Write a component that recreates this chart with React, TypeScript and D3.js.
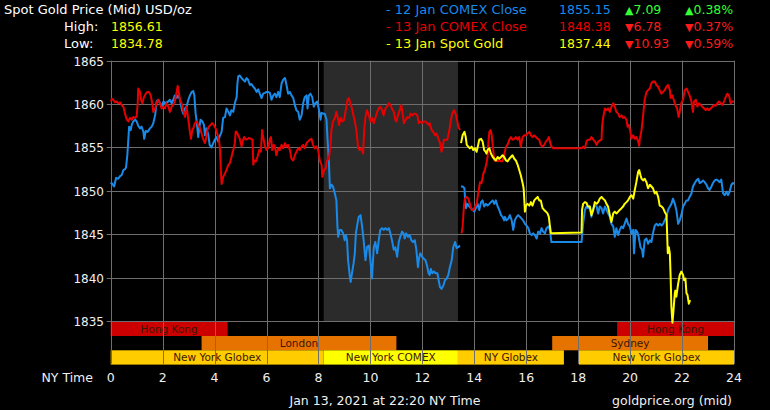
import React from "react";
import * as d3 from "d3";

// ---- data ----
const xTicks = [0, 2, 4, 6, 8, 10, 12, 14, 16, 18, 20, 22, 24];
const yTicks = [1835, 1840, 1845, 1850, 1855, 1860, 1865];
const comexShade = [8.2, 13.37];

type Band = { row: number; start: number; end: number; label: string; color: string };
const sessionBands: Band[] = [
  { row: 0, start: 0, end: 4.5, label: "Hong Kong", color: "#cc0000" },
  { row: 0, start: 19.5, end: 24, label: "Hong Kong", color: "#cc0000" },
  { row: 1, start: 3.5, end: 11, label: "London", color: "#e67300" },
  { row: 1, start: 17, end: 23, label: "Sydney", color: "#e67300" },
  { row: 2, start: 0, end: 8.2, label: "New York Globex", color: "#ffcc00" },
  { row: 2, start: 8.2, end: 13.37, label: "New York COMEX", color: "#ffff00" },
  { row: 2, start: 13.37, end: 17.45, label: "NY Globex", color: "#ffcc00" },
  { row: 2, start: 18.03, end: 24, label: "New York Globex", color: "#ffcc00" },
];

// [hour, price]; null price breaks the line
const blueSeries: [number, number | null][] = [
  [0, 1850.8], [0.04, 1850.9], [0.13, 1850.5], [0.21, 1851.5], [0.29, 1851.4], [0.36, 1851.7], [0.42, 1851.8],
  [0.49, 1852.4], [0.55, 1852.5], [0.59, 1852.7], [0.64, 1854.1], [0.71, 1857.4], [0.77, 1857.0], [0.81, 1857.6],
  [0.87, 1858.0], [0.94, 1858.2], [1.0, 1858.0], [1.06, 1857.5], [1.13, 1857.2], [1.19, 1857.4], [1.26, 1856.8],
  [1.29, 1856.0], [1.35, 1856.9], [1.42, 1856.8], [1.51, 1857.2], [1.58, 1857.4], [1.64, 1857.8], [1.71, 1858.7],
  [1.77, 1860.3], [1.83, 1860.5], [1.9, 1860.1], [1.96, 1859.7], [2.03, 1860.3], [2.09, 1860.1], [2.15, 1860.2],
  [2.22, 1860.3], [2.28, 1860.5], [2.35, 1860.1], [2.41, 1860.5], [2.47, 1861.0], [2.54, 1860.7], [2.6, 1861.0],
  [2.67, 1860.5], [2.73, 1859.5], [2.79, 1858.9], [2.86, 1859.5], [2.92, 1859.7], [2.99, 1860.5], [3.05, 1861.0],
  [3.12, 1861.4], [3.18, 1861.5], [3.22, 1861.0], [3.27, 1858.9], [3.31, 1858.0], [3.37, 1856.2], [3.41, 1857.2],
  [3.46, 1858.2], [3.53, 1858.0], [3.59, 1857.6], [3.63, 1856.4], [3.69, 1857.2], [3.76, 1856.4], [3.81, 1855.3],
  [3.88, 1855.0], [3.95, 1855.5], [4.01, 1855.9], [4.08, 1856.2], [4.14, 1855.7], [4.21, 1856.4], [4.27, 1856.8],
  [4.33, 1858.4], [4.4, 1858.5], [4.46, 1859.5], [4.53, 1859.1], [4.59, 1858.7], [4.65, 1859.3], [4.72, 1859.1],
  [4.78, 1860.1], [4.85, 1860.8], [4.88, 1862.4], [4.91, 1863.2], [4.97, 1863.3], [5.04, 1863.0], [5.1, 1862.8],
  [5.17, 1862.6], [5.23, 1863.0], [5.29, 1862.8], [5.36, 1862.2], [5.42, 1862.3], [5.49, 1862.0], [5.55, 1861.8],
  [5.62, 1861.4], [5.68, 1861.7], [5.74, 1861.2], [5.81, 1860.7], [5.87, 1861.2], [5.94, 1861.3], [6.0, 1861.4],
  [6.06, 1861.4], [6.13, 1861.3], [6.19, 1860.5], [6.26, 1861.0], [6.32, 1861.2], [6.38, 1860.8], [6.45, 1861.4],
  [6.51, 1860.8], [6.58, 1862.4], [6.64, 1862.8], [6.71, 1863.0], [6.77, 1862.2], [6.83, 1861.2], [6.9, 1861.4],
  [6.96, 1861.0], [7.03, 1860.7], [7.09, 1859.9], [7.15, 1859.3], [7.22, 1859.1], [7.28, 1858.2], [7.35, 1858.7],
  [7.41, 1860.1], [7.47, 1860.8], [7.54, 1861.0], [7.58, 1859.5], [7.63, 1861.0], [7.69, 1861.2], [7.76, 1860.8],
  [7.82, 1859.7], [7.88, 1860.1], [7.95, 1860.3], [8.01, 1859.5], [8.08, 1858.2], [8.12, 1859.0], [8.18, 1858.9],
  [8.24, 1858.9], [8.31, 1858.2], [8.35, 1855.9], [8.4, 1853.5], [8.44, 1850.3], [8.5, 1850.7], [8.56, 1850.5],
  [8.63, 1849.7], [8.69, 1848.9], [8.73, 1845.9], [8.76, 1844.7], [8.82, 1845.5], [8.88, 1845.5], [8.95, 1845.1],
  [9.01, 1844.3], [9.05, 1844.9], [9.1, 1844.3], [9.14, 1842.0], [9.21, 1840.1], [9.24, 1839.5], [9.29, 1840.5],
  [9.35, 1841.6], [9.4, 1842.8], [9.44, 1845.1], [9.5, 1846.2], [9.55, 1847.0], [9.62, 1847.2], [9.68, 1845.9],
  [9.74, 1844.3], [9.81, 1842.0], [9.87, 1843.5], [9.94, 1843.7], [10.0, 1842.0], [10.06, 1839.9], [10.13, 1843.5],
  [10.19, 1844.1], [10.26, 1842.8], [10.32, 1844.3], [10.38, 1845.5], [10.45, 1845.7], [10.51, 1845.5], [10.58, 1845.7],
  [10.64, 1845.5], [10.71, 1845.7], [10.77, 1845.1], [10.83, 1844.3], [10.9, 1843.2], [10.96, 1843.5], [11.03, 1842.4],
  [11.09, 1844.1], [11.15, 1844.7], [11.22, 1845.3], [11.28, 1845.1], [11.32, 1844.5], [11.38, 1845.1], [11.45, 1844.7],
  [11.51, 1844.9], [11.58, 1844.3], [11.64, 1844.1], [11.71, 1844.3], [11.77, 1843.2], [11.83, 1841.2], [11.87, 1842.2],
  [11.92, 1842.8], [11.99, 1842.4], [12.05, 1842.2], [12.12, 1842.0], [12.18, 1841.4], [12.24, 1840.5], [12.28, 1840.3],
  [12.33, 1841.0], [12.38, 1840.5], [12.45, 1840.7], [12.51, 1840.5], [12.58, 1840.5], [12.64, 1839.5], [12.68, 1838.9],
  [12.74, 1838.7], [12.81, 1839.1], [12.87, 1839.7], [12.94, 1839.9], [13.0, 1840.3], [13.06, 1841.2], [13.13, 1842.0],
  [13.19, 1843.5], [13.26, 1844.1], [13.32, 1843.4], [13.38, 1843.5], [13.45, 1843.7], [13.47, null],
  [13.49, 1850.5], [13.55, 1850.5], [13.62, 1850.3], [13.64, 1849.3], [13.68, 1848.0], [13.74, 1848.5], [13.81, 1848.2],
  [13.87, 1848.0], [13.94, 1847.8], [14.0, 1847.6], [14.06, 1848.0], [14.13, 1848.5], [14.19, 1847.8], [14.26, 1848.7],
  [14.32, 1848.9], [14.38, 1848.2], [14.45, 1848.5], [14.51, 1848.3], [14.58, 1848.5], [14.64, 1848.7], [14.71, 1848.9],
  [14.77, 1848.5], [14.83, 1848.9], [14.9, 1848.2], [14.96, 1847.8], [15.03, 1847.2], [15.09, 1847.0], [15.15, 1846.6],
  [15.18, 1847.0], [15.24, 1846.6], [15.31, 1846.8], [15.37, 1847.2], [15.44, 1846.6], [15.5, 1845.5], [15.56, 1846.6],
  [15.63, 1847.0], [15.69, 1847.2], [15.76, 1847.0], [15.82, 1846.8], [15.88, 1846.6], [15.95, 1846.2], [16.01, 1846.0],
  [16.08, 1845.7], [16.14, 1845.1], [16.21, 1844.9], [16.27, 1845.1], [16.33, 1844.9], [16.4, 1844.5], [16.46, 1845.3],
  [16.53, 1845.1], [16.59, 1845.7], [16.65, 1845.3], [16.72, 1845.1], [16.78, 1845.7], [16.85, 1845.9], [16.91, 1845.5],
  [16.97, 1844.1], [18.13, 1844.1], [18.19, 1846.2], [18.26, 1847.8], [18.32, 1848.2], [18.38, 1848.0], [18.45, 1848.2],
  [18.51, 1847.0], [18.58, 1848.0], [18.64, 1848.3], [18.71, 1848.2], [18.77, 1847.4], [18.83, 1848.2], [18.9, 1848.0],
  [18.96, 1847.4], [19.03, 1848.2], [19.09, 1847.8], [19.15, 1847.4], [19.22, 1847.0], [19.28, 1846.2], [19.35, 1845.9],
  [19.41, 1844.7], [19.47, 1845.7], [19.54, 1844.9], [19.6, 1845.5], [19.67, 1845.9], [19.73, 1845.7], [19.79, 1846.2],
  [19.86, 1846.8], [19.92, 1846.2], [19.99, 1845.9], [20.05, 1845.1], [20.12, 1845.5], [20.15, 1842.8], [20.21, 1845.5],
  [20.27, 1845.3], [20.33, 1844.7], [20.4, 1843.5], [20.46, 1843.2], [20.5, 1842.4], [20.56, 1844.3], [20.63, 1844.5],
  [20.69, 1843.9], [20.76, 1844.3], [20.82, 1844.1], [20.88, 1845.1], [20.95, 1846.0], [21.01, 1846.2], [21.08, 1846.0],
  [21.14, 1846.2], [21.21, 1846.0], [21.27, 1846.2], [21.33, 1846.6], [21.4, 1847.0], [21.46, 1847.8], [21.53, 1848.2],
  [21.59, 1848.5], [21.65, 1849.1], [21.72, 1848.5], [21.78, 1847.8], [21.85, 1846.2], [21.91, 1846.6], [21.97, 1847.2],
  [22.04, 1848.2], [22.1, 1848.5], [22.17, 1848.9], [22.23, 1848.9], [22.29, 1849.3], [22.36, 1849.7], [22.42, 1850.5],
  [22.49, 1850.9], [22.55, 1851.2], [22.62, 1851.4], [22.68, 1850.9], [22.74, 1851.0], [22.81, 1851.2], [22.87, 1851.0],
  [22.94, 1850.7], [23.0, 1850.3], [23.06, 1850.1], [23.13, 1850.5], [23.19, 1850.9], [23.26, 1851.2], [23.32, 1851.3],
  [23.38, 1851.2], [23.45, 1851.0], [23.51, 1851.3], [23.58, 1849.7], [23.64, 1849.5], [23.71, 1849.9], [23.77, 1849.5],
  [23.83, 1849.9], [23.9, 1850.7], [23.96, 1850.9], [24.0, 1850.8],
];

const redSeries: [number, number | null][] = [
  [0, 1860.3], [0.05, 1860.6], [0.1, 1860.5], [0.17, 1860.2], [0.23, 1860.3], [0.29, 1860.1], [0.36, 1860.2],
  [0.42, 1859.9], [0.49, 1859.7], [0.55, 1858.9], [0.62, 1858.2], [0.68, 1858.0], [0.74, 1858.4], [0.81, 1858.2],
  [0.87, 1858.5], [0.94, 1858.4], [1.0, 1858.6], [1.04, 1860.1], [1.06, 1861.8], [1.13, 1861.4], [1.17, 1860.5],
  [1.22, 1860.1], [1.28, 1860.8], [1.35, 1861.2], [1.41, 1861.4], [1.47, 1861.4], [1.54, 1861.0], [1.6, 1860.1],
  [1.64, 1859.1], [1.71, 1859.5], [1.77, 1860.1], [1.83, 1860.5], [1.9, 1860.1], [1.96, 1859.5], [2.03, 1859.7],
  [2.09, 1859.5], [2.15, 1860.1], [2.22, 1859.7], [2.28, 1859.1], [2.35, 1859.7], [2.41, 1859.9], [2.47, 1860.3],
  [2.54, 1861.4], [2.58, 1862.1], [2.63, 1861.2], [2.68, 1860.3], [2.73, 1860.1], [2.79, 1859.3], [2.86, 1858.5],
  [2.92, 1859.7], [2.99, 1858.2], [3.04, 1857.0], [3.09, 1856.0], [3.14, 1857.0], [3.18, 1857.2], [3.24, 1857.8],
  [3.31, 1858.0], [3.37, 1857.6], [3.44, 1857.2], [3.5, 1856.6], [3.56, 1856.0], [3.63, 1855.5], [3.67, 1856.0],
  [3.72, 1857.0], [3.78, 1857.4], [3.85, 1857.6], [3.91, 1857.8], [3.97, 1857.6], [4.04, 1857.2], [4.1, 1856.6],
  [4.17, 1855.9], [4.21, 1854.7], [4.24, 1852.4], [4.27, 1850.8], [4.33, 1851.6], [4.4, 1852.0], [4.46, 1852.4],
  [4.53, 1853.0], [4.59, 1853.2], [4.65, 1853.9], [4.72, 1854.7], [4.78, 1855.5], [4.81, 1856.8], [4.85, 1856.8],
  [4.91, 1856.4], [4.97, 1856.0], [5.04, 1855.1], [5.08, 1855.7], [5.14, 1856.2], [5.21, 1855.9], [5.27, 1856.0],
  [5.33, 1856.1], [5.4, 1856.0], [5.46, 1855.9], [5.49, 1853.0], [5.53, 1853.5], [5.59, 1853.4], [5.65, 1853.9],
  [5.72, 1854.7], [5.78, 1854.5], [5.83, 1857.0], [5.87, 1856.2], [5.94, 1855.1], [6.0, 1854.7], [6.06, 1854.9],
  [6.13, 1856.0], [6.17, 1856.2], [6.22, 1854.7], [6.28, 1855.3], [6.32, 1855.1], [6.38, 1854.1], [6.45, 1854.9],
  [6.51, 1854.7], [6.58, 1855.3], [6.64, 1854.9], [6.71, 1855.5], [6.77, 1855.1], [6.83, 1855.3], [6.9, 1854.7],
  [6.96, 1853.7], [7.03, 1853.5], [7.09, 1854.1], [7.15, 1854.5], [7.22, 1854.9], [7.28, 1854.7], [7.35, 1855.1],
  [7.41, 1855.3], [7.47, 1854.9], [7.54, 1855.5], [7.6, 1855.7], [7.67, 1855.9], [7.73, 1856.0], [7.79, 1855.3],
  [7.86, 1854.9], [7.92, 1855.1], [7.99, 1854.7], [8.05, 1853.5], [8.12, 1853.0], [8.15, 1851.6], [8.22, 1852.4],
  [8.28, 1852.6], [8.33, 1853.5], [8.4, 1853.7], [8.46, 1855.1], [8.5, 1857.0], [8.56, 1858.0], [8.63, 1858.4],
  [8.69, 1859.1], [8.76, 1858.2], [8.79, 1857.6], [8.86, 1858.4], [8.92, 1858.0], [8.99, 1858.2], [9.05, 1859.3],
  [9.12, 1860.5], [9.17, 1860.7], [9.23, 1860.1], [9.29, 1859.5], [9.36, 1858.5], [9.4, 1858.0], [9.46, 1857.0],
  [9.53, 1854.9], [9.59, 1854.7], [9.65, 1854.9], [9.72, 1854.3], [9.76, 1857.0], [9.81, 1858.5], [9.87, 1859.3],
  [9.94, 1858.7], [10.0, 1858.0], [10.06, 1858.4], [10.13, 1857.8], [10.19, 1858.4], [10.26, 1859.1], [10.32, 1859.5],
  [10.38, 1859.7], [10.45, 1859.3], [10.51, 1858.7], [10.58, 1859.5], [10.64, 1859.7], [10.71, 1860.1], [10.77, 1859.9],
  [10.83, 1859.5], [10.9, 1859.1], [10.96, 1858.2], [11.0, 1858.0], [11.06, 1858.7], [11.13, 1859.3], [11.19, 1859.9],
  [11.23, 1859.1], [11.29, 1857.8], [11.36, 1858.2], [11.42, 1858.5], [11.49, 1858.4], [11.55, 1858.9], [11.62, 1858.7],
  [11.68, 1858.9], [11.74, 1858.9], [11.81, 1858.7], [11.86, 1857.8], [11.92, 1858.0], [11.99, 1857.8], [12.05, 1858.0],
  [12.12, 1858.0], [12.18, 1857.8], [12.24, 1857.6], [12.28, 1857.8], [12.36, 1857.0], [12.42, 1856.8], [12.49, 1856.4],
  [12.55, 1856.6], [12.62, 1856.0], [12.68, 1855.5], [12.74, 1854.5], [12.78, 1855.1], [12.83, 1855.9], [12.9, 1855.9],
  [12.96, 1855.9], [13.03, 1856.8], [13.09, 1858.0], [13.15, 1858.9], [13.22, 1859.3], [13.28, 1858.9], [13.35, 1858.0],
  [13.38, 1857.4], [13.45, 1857.0], [13.48, null],
  [13.51, 1845.1], [13.55, 1845.9], [13.6, 1848.2], [13.64, 1849.1], [13.71, 1849.3], [13.77, 1849.1], [13.83, 1848.5],
  [13.9, 1847.8], [13.96, 1847.8], [14.03, 1848.2], [14.09, 1848.5], [14.15, 1849.7], [14.22, 1851.0], [14.28, 1850.9],
  [14.35, 1852.0], [14.41, 1852.4], [14.47, 1853.2], [14.51, 1853.9], [14.54, 1855.5], [14.58, 1856.8], [14.63, 1857.0],
  [14.67, 1856.4], [14.73, 1854.7], [14.77, 1853.5], [14.83, 1853.5], [14.9, 1853.4], [14.96, 1853.5], [15.03, 1853.4],
  [15.09, 1853.4], [15.15, 1854.1], [15.22, 1855.1], [15.28, 1855.3], [15.35, 1855.9], [15.41, 1856.2], [15.47, 1855.9],
  [15.54, 1856.0], [15.6, 1856.2], [15.67, 1855.9], [15.73, 1856.2], [15.79, 1855.1], [15.86, 1856.2], [15.92, 1856.4],
  [15.99, 1856.4], [16.05, 1856.6], [16.12, 1856.8], [16.18, 1856.4], [16.24, 1856.2], [16.31, 1856.4], [16.37, 1856.2],
  [16.44, 1856.0], [16.5, 1855.9], [16.56, 1855.3], [16.63, 1855.1], [16.69, 1855.3], [16.76, 1855.7], [16.82, 1855.9],
  [16.87, 1856.2], [16.91, 1855.7], [16.97, 1855.1], [17.04, 1854.9], [18.13, 1854.9], [18.19, 1855.1], [18.26, 1854.9],
  [18.32, 1855.7], [18.38, 1855.9], [18.45, 1855.9], [18.51, 1856.2], [18.58, 1855.9], [18.64, 1855.7], [18.71, 1855.3],
  [18.77, 1855.7], [18.83, 1855.8], [18.9, 1855.9], [18.92, 1857.4], [18.96, 1858.4], [19.03, 1859.5], [19.09, 1859.3],
  [19.15, 1859.5], [19.22, 1859.1], [19.28, 1859.7], [19.35, 1860.1], [19.41, 1859.7], [19.47, 1859.1], [19.54, 1858.9],
  [19.6, 1858.5], [19.67, 1858.7], [19.73, 1858.4], [19.79, 1858.5], [19.86, 1858.2], [19.9, 1857.4], [19.95, 1857.6],
  [20.01, 1856.8], [20.05, 1856.0], [20.12, 1856.4], [20.18, 1856.0], [20.24, 1856.2], [20.31, 1855.7], [20.35, 1855.2],
  [20.37, 1855.9], [20.44, 1857.0], [20.5, 1858.7], [20.56, 1860.5], [20.63, 1861.4], [20.69, 1861.6], [20.76, 1861.8],
  [20.82, 1862.4], [20.88, 1862.6], [20.95, 1862.6], [21.01, 1862.2], [21.08, 1862.0], [21.14, 1861.6], [21.21, 1861.2],
  [21.27, 1861.4], [21.33, 1861.6], [21.4, 1862.0], [21.46, 1862.2], [21.53, 1861.6], [21.56, 1860.7], [21.62, 1861.0],
  [21.68, 1860.5], [21.74, 1859.9], [21.81, 1859.5], [21.87, 1858.5], [21.91, 1859.1], [21.97, 1860.1], [22.04, 1860.5],
  [22.1, 1861.6], [22.17, 1861.8], [22.23, 1861.4], [22.29, 1861.0], [22.36, 1860.3], [22.42, 1859.1], [22.46, 1860.3],
  [22.53, 1860.5], [22.59, 1859.7], [22.65, 1860.1], [22.72, 1859.9], [22.78, 1859.7], [22.85, 1859.5], [22.91, 1859.3],
  [22.97, 1859.5], [23.04, 1859.3], [23.1, 1859.5], [23.17, 1859.7], [23.23, 1859.9], [23.29, 1859.8], [23.36, 1860.1],
  [23.42, 1860.3], [23.49, 1860.1], [23.55, 1859.9], [23.62, 1860.3], [23.68, 1860.8], [23.74, 1861.2], [23.81, 1861.0],
  [23.87, 1860.1], [23.94, 1860.3], [24.0, 1860.3],
];

const yellowSeries: [number, number | null][] = [
  [13.49, 1855.5], [13.55, 1856.4], [13.62, 1856.8], [13.67, 1856.2], [13.71, 1855.3], [13.77, 1855.1], [13.83, 1854.9],
  [13.9, 1855.1], [13.96, 1854.7], [14.03, 1854.9], [14.09, 1854.5], [14.15, 1855.3], [14.19, 1855.9], [14.26, 1856.0],
  [14.32, 1855.7], [14.38, 1854.7], [14.44, 1854.5], [14.47, 1854.3], [14.51, 1854.7], [14.58, 1854.9], [14.64, 1854.3],
  [14.71, 1853.9], [14.77, 1853.7], [14.83, 1853.5], [14.9, 1853.9], [14.96, 1853.7], [15.03, 1853.9], [15.09, 1854.1],
  [15.15, 1853.9], [15.22, 1853.5], [15.28, 1853.4], [15.35, 1853.7], [15.41, 1853.9], [15.47, 1854.1], [15.54, 1853.7],
  [15.6, 1853.5], [15.67, 1853.0], [15.73, 1852.4], [15.79, 1851.8], [15.86, 1850.9], [15.9, 1850.3], [15.92, 1849.3],
  [15.95, 1847.6], [15.99, 1848.3], [16.05, 1848.5], [16.12, 1848.3], [16.18, 1848.7], [16.24, 1848.3], [16.31, 1848.9],
  [16.37, 1849.1], [16.44, 1849.3], [16.5, 1848.9], [16.56, 1848.9], [16.63, 1848.0], [16.69, 1847.8], [16.76, 1847.6],
  [16.82, 1847.4], [16.87, 1847.0], [16.91, 1846.0], [16.95, 1845.1], [18.13, 1845.2], [18.15, 1847.8], [18.19, 1848.5],
  [18.26, 1848.7], [18.32, 1848.6], [18.38, 1848.2], [18.45, 1848.2], [18.51, 1847.2], [18.58, 1847.8], [18.64, 1848.7],
  [18.71, 1848.5], [18.77, 1848.7], [18.83, 1849.1], [18.9, 1849.3], [18.96, 1849.1], [19.03, 1848.9], [19.09, 1848.5],
  [19.15, 1848.2], [19.22, 1847.2], [19.28, 1846.4], [19.35, 1847.4], [19.41, 1847.6], [19.47, 1847.4], [19.54, 1847.6],
  [19.6, 1847.8], [19.67, 1848.0], [19.73, 1848.2], [19.79, 1848.5], [19.86, 1848.7], [19.92, 1848.9], [19.99, 1849.3],
  [20.05, 1849.5], [20.12, 1849.1], [20.18, 1850.1], [20.24, 1851.0], [20.31, 1852.2], [20.35, 1852.4], [20.4, 1851.8],
  [20.44, 1851.4], [20.5, 1851.2], [20.56, 1851.4], [20.63, 1851.0], [20.69, 1850.3], [20.76, 1850.7], [20.82, 1850.5],
  [20.88, 1850.3], [20.95, 1849.7], [21.01, 1849.9], [21.08, 1849.3], [21.14, 1848.3], [21.21, 1848.2], [21.27, 1848.0],
  [21.33, 1847.6], [21.4, 1847.2], [21.42, 1845.5], [21.45, 1842.8], [21.49, 1843.5], [21.53, 1842.8], [21.56, 1840.1],
  [21.59, 1836.6], [21.63, 1834.8], [21.67, 1836.2], [21.72, 1838.2], [21.74, 1838.5], [21.78, 1837.8], [21.85, 1839.3],
  [21.91, 1840.3], [21.97, 1840.7], [22.04, 1840.3], [22.08, 1839.7], [22.13, 1839.9], [22.17, 1838.2], [22.21, 1838.0],
  [22.26, 1837.0], [22.31, 1837.4],
];

const legendLabels = ["- 12 Jan COMEX Close", "- 13 Jan COMEX Close", "- 13 Jan Spot Gold"];
const legendPrices = ["1855.15", "1848.38", "1837.44"];
const legendChanges = [7.09, -6.78, -10.93];
const legendPercents = [0.38, -0.37, -0.59];
const seriesColors = ["#1a8ae8", "#e60000", "#ffff00"];
const headerHigh = "1856.61";
const headerLow = "1834.78";

const FONT = "'DejaVu Sans', Verdana, sans-serif";

export default function App() {
  const W = 770, H = 410;
  const x = d3.scaleLinear().domain([0, 24]).range([110.7, 734]);
  const y = d3.scaleLinear().domain([1835, 1865]).range([321, 60.7]);
  const bandTop = y(1835);
  const bandH = 14.3;
  const plotBottom = bandTop + bandH * 3;

  const line = d3
    .line<[number, number | null]>()
    .defined((d) => d[1] !== null)
    .x((d) => x(d[0]))
    .y((d) => y(d[1] as number));

  const series = [blueSeries, redSeries, yellowSeries];

  return (
    <svg
      width={W}
      height={H}
      style={{ position: "absolute", left: 0, top: 0, background: "#000", display: "block" }}
      fontFamily={FONT}
    >
      <rect x={0} y={0} width={W} height={H} fill="#000" />
      {/* COMEX shaded region */}
      <rect
        x={x(comexShade[0])}
        y={y(1865)}
        width={x(comexShade[1]) - x(comexShade[0])}
        height={bandTop - y(1865)}
        fill="#2b2b2b"
      />
      {/* session bands */}
      {sessionBands.map((b, i) => (
        <g key={i}>
          <rect
            x={x(b.start)}
            y={bandTop + b.row * bandH + 0.7}
            width={x(b.end) - x(b.start)}
            height={bandH}
            fill={b.color}
          />
          <text
            x={(x(b.start) + x(b.end)) / 2}
            y={bandTop + b.row * bandH + 11.5}
            textAnchor="middle"
            fontSize={10.5}
            fill="#3d1500"
          >
            {b.label}
          </text>
        </g>
      ))}
      {/* grid */}
      {yTicks.map((t) => (
        <g key={t}>
          <line x1={x(0) - 4} x2={x(24)} y1={Math.round(y(t)) + 0.5} y2={Math.round(y(t)) + 0.5} stroke="#6e6e6e" />
          <text x={104} y={y(t) + 5} textAnchor="end" fontSize={12} fill="#f0f0f0">
            {t}
          </text>
        </g>
      ))}
      {xTicks.map((t) => (
        <g key={t}>
          <line x1={Math.round(x(t)) + 0.5} x2={Math.round(x(t)) + 0.5} y1={y(1865)} y2={plotBottom} stroke="#6e6e6e" />
          <text x={x(t)} y={382} textAnchor="middle" fontSize={12.5} fill="#f0f0f0">
            {t}
          </text>
        </g>
      ))}
      <text x={93} y={382} textAnchor="end" fontSize={12.5} fill="#f0f0f0">
        NY Time
      </text>
      {/* lines */}
      {series.map((s, i) => (
        <path key={i} d={line(s) || ""} fill="none" stroke={seriesColors[i]} strokeWidth={2} strokeLinejoin="round" />
      ))}
      {/* header */}
      <text x={4} y={14} fontSize={13} fill="#fff">
        Spot Gold Price (Mid) USD/oz
      </text>
      <text x={64} y={31} fontSize={13} fill="#fff">High:</text>
      <text x={111} y={31} fontSize={12.5} fill="#ffff00">{headerHigh}</text>
      <text x={64} y={48} fontSize={13} fill="#fff">Low:</text>
      <text x={111} y={48} fontSize={12.5} fill="#ffff00">{headerLow}</text>
      {legendLabels.map((lab, i) => {
        const yy = 14 + i * 17;
        const ch = legendChanges[i];
        const pc = legendPercents[i];
        const up = ch >= 0;
        const cc = up ? "#33ff33" : "#ff1a1a";
        return (
          <g key={lab}>
            <text x={386} y={yy} fontSize={13} fill={seriesColors[i]}>
              {lab}
            </text>
            <text x={559} y={yy} fontSize={12.5} fill={seriesColors[i]}>
              {legendPrices[i]}
            </text>
            <text x={625} y={yy} fontSize={12.5} fill={cc}>
              <tspan fontSize={11}>{up ? "▲" : "▼"}</tspan>
              <tspan>{Math.abs(ch).toFixed(2)}</tspan>
            </text>
            <text x={685} y={yy} fontSize={12.5} fill={cc}>
              <tspan fontSize={11}>{up ? "▲" : "▼"}</tspan>
              <tspan>{Math.abs(pc).toFixed(2)}%</tspan>
            </text>
          </g>
        );
      })}
      {/* footer */}
      <text x={385} y={405} textAnchor="middle" fontSize={12.5} fill="#f0f0f0">
        Jan 13, 2021 at 22:20 NY Time
      </text>
      <text x={732} y={405} textAnchor="end" fontSize={12.5} fill="#f0f0f0">
        goldprice.org (mid)
      </text>
    </svg>
  );
}
